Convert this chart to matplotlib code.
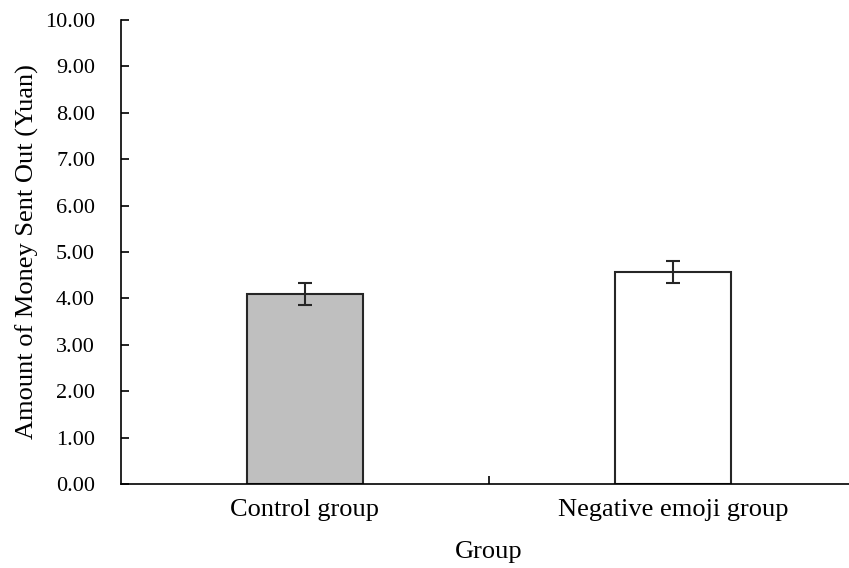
import matplotlib
matplotlib.use("Agg")
import matplotlib.pyplot as plt
from matplotlib.ticker import FormatStrFormatter

groups = ["Control group", "Negative emoji group"]
means = [4.10, 4.57]
errors = [0.24, 0.24]
colors = ["#bfbfbf", "white"]

plt.rcParams["font.family"] = ["Liberation Serif", "DejaVu Serif"]

fig = plt.figure(figsize=(8.49, 5.68), dpi=100)
# axes run past the right edge, as in the original
ax = fig.add_axes([121 / 849, 84 / 568, 736 / 849, 464 / 568])

x = list(range(len(groups)))
ax.bar(x, means, width=0.315, color=colors, edgecolor="#262626", linewidth=1.5,
       yerr=errors, error_kw=dict(ecolor="#262626", elinewidth=1.5, capsize=5, capthick=1.5))

ax.set_xlim(-0.5, 1.5)
ax.set_ylim(0, 10)
ax.set_yticks([i for i in range(11)])
ax.yaxis.set_major_formatter(FormatStrFormatter("%.2f"))
ax.set_xticks(x)
ax.set_xticklabels(groups)
ax.set_xticks([0.5], minor=True)
ax.tick_params(axis="x", which="major", length=0, pad=11, labelsize=19)
ax.tick_params(axis="x", which="minor", direction="in", length=6, width=1.2)
ax.tick_params(axis="y", direction="in", length=6, width=1.2, labelsize=16, pad=18.7)

ax.spines["top"].set_visible(False)
ax.spines["right"].set_visible(False)
ax.spines["left"].set_linewidth(1.2)
ax.spines["bottom"].set_linewidth(1.2)

ax.set_xlabel("Group", fontsize=19)
ax.xaxis.set_label_coords(0.5, -0.123)
ax.set_ylabel("Amount of Money Sent Out (Yuan)", fontsize=19)
ax.yaxis.set_label_coords(-0.112, 0.5)

fig.savefig("out.png", dpi=100)
